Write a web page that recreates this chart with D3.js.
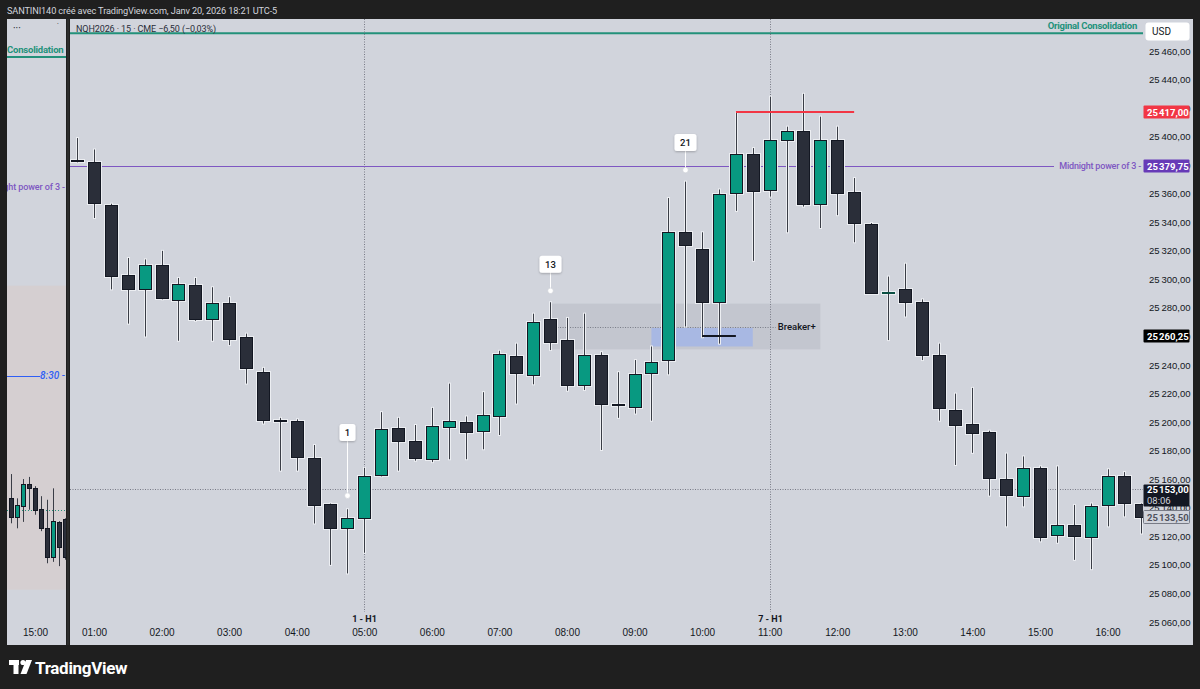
<!DOCTYPE html>
<html lang="fr">
<head>
<meta charset="UTF-8">
<title>NQH2026 - 15 - CME</title>
<script src="https://cdnjs.cloudflare.com/ajax/libs/d3/7.8.5/d3.min.js"></script>
<style>
  body { margin: 0; background: #1f1f1f; }
  svg { display: block; font-family: Roboto, "Noto Sans", sans-serif; }
</style>
</head>
<body>
<script>
// 15 min candles, NQH2026
var candleTimes = ["00:45","01:00","01:15","01:30","01:45","02:00","02:15","02:30","02:45","03:00","03:15","03:30","03:45","04:00","04:15","04:30","04:45","05:00","05:15","05:30","05:45","06:00","06:15","06:30","06:45","07:00","07:15","07:30","07:45","08:00","08:15","08:30","08:45","09:00","09:15","09:30","09:45","10:00","10:15","10:30","10:45","11:00","11:15","11:30","11:45","12:00","12:15","12:30","12:45","13:00","13:15","13:30","13:45","14:00","14:15","14:30","14:45","15:00","15:15","15:30","15:45","16:00","16:15","16:30"];
var opens  = [25383.5,25382,25352,25303,25293.5,25310,25286,25296,25272,25283.5,25260,25235,25201.5,25201,25175,25143,25126,25133,25163,25196,25187,25174,25197,25200,25194,25204,25246,25233,25272,25257.5,25226,25247,25213,25211,25234,25243,25333,25321,25284,25361,25388,25363,25398,25404,25353,25398,25361,25339,25291,25293,25284,25247,25208.5,25198.5,25193,25160,25148.5,25168,25121,25128,25120,25141.5,25162,25142.5];
var highs  = [25399,25391,25353,25315,25314,25320,25301,25301,25294.5,25287.5,25262,25238,25203,25202,25184,25143,25139,25168,25207,25203,25198,25210,25227,25204,25221,25250,25255,25276,25284,25273,25276,25249,25235,25243.5,25253,25357,25368.5,25333,25363,25417,25392,25428,25407,25430,25414,25407,25371,25339.5,25302,25311,25286,25255,25220,25224,25194,25178,25176,25169,25169,25142,25143,25167,25165,25143];
var lows   = [25382,25343,25293,25269,25260,25286,25257,25271,25257,25254,25227,25199,25166,25166,25129,25100,25094,25108.5,25162,25166,25173,25172,25174,25174,25181,25191,25213,25226.5,25250.5,25222,25222.5,25180.5,25203,25206,25201,25233.5,25267,25259.5,25255,25348,25313,25358,25333,25351,25336,25345,25326,25290,25257.5,25274,25243.5,25201,25170,25178.5,25148.5,25127,25141,25116.5,25115.5,25103.5,25097,25127,25134,25122];
var closes = [25383,25353,25302,25293,25310,25287,25297,25272,25283.5,25258,25238,25201.5,25201,25176,25142,25126,25133,25162.5,25195,25187,25175,25197,25201,25193,25205,25247.5,25234,25270,25256,25226,25247,25212.5,25212.5,25234,25242,25333,25324,25284,25360,25388,25362,25398,25404,25353,25398,25361,25339,25291,25291.5,25284,25247,25210,25198,25192,25161,25149,25168,25120,25128,25120,25141.5,25162,25143,25133.5];

// left mini pane
var leftTimes = ["14:00","14:15","14:30","14:45","15:00","15:15","15:30","15:45","16:00","16:15"];
var leftOpens  = [25161,25148,25155.5,25171,25168.5,25153.5,25140,25120,25144.5,25146.5];
var leftHighs  = [25178,25161,25174.5,25176,25169.5,25162.5,25160,25168,25145,25147];
var leftLows   = [25143.5,25140,25144.5,25153,25149.5,25138,25115.5,25116.5,25113.5,25118];
var leftCloses = [25148,25156.5,25171,25168.5,25153,25140,25120,25145,25127,25120];
var leftSession = [25310, 25097];
var leftLevel830 = 25246.7;

// axis ticks
var priceTicks = d3.range(25060, 25461, 20);
var hourTicks = ["01:00","02:00","03:00","04:00","05:00","06:00","07:00","08:00","09:00","10:00","11:00","12:00","13:00","14:00","15:00","16:00"];

// drawings
var consolidationLevel = 25472.5;
var midnightLevel = 25379.75;
var highLevel = 25417, highSpan = ["10:30","12:15"];
var lowLevel = 25260.25, lowSpan = ["10:00","10:30"];
var breakerBox = [25283, 25251], breakerSpan = ["07:45","11:45"];
var blueBox = [25266, 25253], blueSpan = ["09:15","10:45"];
var breakerLevel = 25267, breakerLineSpan = ["07:45","11:00"];
var lastPrice = 25153, lastClose = 25133.5, countdown = "08:06";
var sessionMarks = [{t:"05:00", label:"1 - H1"}, {t:"11:00", label:"7 - H1"}];
var callouts = [
  {label:"1",  t:"04:45", p:25148.5, box:25192.8},
  {label:"13", t:"07:45", p:25292,   box:25310.6},
  {label:"21", t:"09:45", p:25376.6, box:25395.9}
];

var W = 1200, H = 689;
var bull = "#089981", bear = "#2a2e39", edge = "#131722", paneBg = "#d1d4dc";
var parseT = d3.timeParse("%H:%M");
var loc = d3.formatLocale({decimal: ",", thousands: "\u202f", grouping: [3], currency: ["", ""]});
var fmt = loc.format(",.2f");
function crisp(v) { return Math.round(v) + 0.5; }

var svg = d3.select("body").append("svg").attr("width", W).attr("height", H);
svg.append("rect").attr("width", W).attr("height", H).attr("fill", "#1f1f1f");

// top caption
svg.append("text").attr("x", 7).attr("y", 13.5).attr("fill", "#d1d4dc")
  .attr("font-size", 9.2).attr("letter-spacing", -0.12)
  .text("SANTINI140 créé avec TradingView.com, Janv 20, 2026 18:21 UTC-5");

// panes
var L = {x0: 7, x1: 66, y0: 19, y1: 645};
var M = {x0: 70, x1: 1143, ax: 1193, y0: 19, y1: 612, yb: 645};
svg.append("rect").attr("x", L.x0).attr("y", L.y0).attr("width", L.x1 - L.x0).attr("height", L.y1 - L.y0).attr("fill", paneBg);
svg.append("rect").attr("x", M.x0).attr("y", M.y0).attr("width", M.ax - M.x0).attr("height", M.yb - M.y0).attr("fill", paneBg);

var defs = svg.append("defs");
defs.append("clipPath").attr("id", "clipM").append("rect")
  .attr("x", M.x0).attr("y", M.y0).attr("width", M.x1 - M.x0).attr("height", M.y1 - M.y0);
defs.append("clipPath").attr("id", "clipL").append("rect")
  .attr("x", L.x0).attr("y", 58).attr("width", L.x1 - L.x0).attr("height", M.y1 - 58);
var sh = defs.append("filter").attr("id", "shadow").attr("x", "-50%").attr("y", "-50%").attr("width", "200%").attr("height", "200%");
sh.append("feDropShadow").attr("dx", 0).attr("dy", 1).attr("stdDeviation", 1).attr("flood-color", "#000").attr("flood-opacity", 0.25);

// scales
var x = d3.scaleTime().domain([parseT("01:00"), parseT("16:00")]).range([94, 1107.5]);
var y = d3.scaleLinear().domain([25060, 25460]).range([622, 51]);
var xl = d3.scaleTime().domain([parseT("14:00"), parseT("16:15")]).range([11, 65]);
var yl = d3.scaleLinear().domain([25060, 25460]).range([642.5, 71.5]);

function rows(t, o, h, l, c) {
  return t.map(function(d, i) { return {t: parseT(d), o: o[i], h: h[i], l: l[i], c: c[i]}; });
}

function drawCandles(g, data, xs, ys, bw, halo) {
  var c = g.selectAll(null).data(data).enter().append("g");
  function cx(d) { return Math.round(xs(d.t)) + 0.5; }
  function top(d) { return Math.round(ys(Math.max(d.o, d.c))) + 0.5; }
  function hgt(d) { return Math.max(1, Math.round(ys(Math.min(d.o, d.c)) - ys(Math.max(d.o, d.c)))); }
  if (halo) {
    c.append("line").attr("x1", cx).attr("x2", cx)
      .attr("y1", function(d) { return ys(d.h) - 1; }).attr("y2", function(d) { return ys(d.l) + 1; })
      .attr("stroke", "#eceef2").attr("stroke-width", 3);
    c.append("rect").attr("x", function(d) { return cx(d) - bw / 2; }).attr("y", top)
      .attr("width", bw).attr("height", hgt)
      .attr("fill", "none").attr("stroke", "#eceef2").attr("stroke-width", 3);
  }
  c.append("line").attr("x1", cx).attr("x2", cx)
    .attr("y1", function(d) { return ys(d.h); }).attr("y2", function(d) { return ys(d.l); })
    .attr("stroke", "#3a3d46").attr("stroke-width", 1);
  c.append("rect").attr("x", function(d) { return cx(d) - bw / 2; }).attr("y", top)
    .attr("width", bw).attr("height", hgt)
    .attr("fill", function(d) { return d.c > d.o ? bull : bear; })
    .attr("stroke", function(d) { return d.c > d.o && hgt(d) < 3 ? "#0b4f43" : edge; })
    .attr("stroke-width", 1);
}

// ---------- left pane ----------
var gl = svg.append("g").attr("clip-path", "url(#clipL)");
gl.append("rect").attr("x", L.x0).attr("width", L.x1 - L.x0)
  .attr("y", yl(leftSession[0])).attr("height", yl(leftSession[1]) - yl(leftSession[0]))
  .attr("fill", "#d5cfd1");
gl.append("text").attr("x", L.x1 - 1).attr("y", yl(midnightLevel) + 3.5).attr("text-anchor", "end")
  .attr("fill", "#7e57c2").attr("font-size", 9).attr("font-weight", 500).attr("letter-spacing", -0.1).text("Midnight power of 3 -");
gl.append("line").attr("x1", L.x0).attr("x2", 40).attr("y1", crisp(yl(leftLevel830))).attr("y2", crisp(yl(leftLevel830)))
  .attr("stroke", "#2f5ff5").attr("stroke-width", 1);
gl.append("text").attr("x", L.x1 - 1).attr("y", yl(leftLevel830) + 3.5).attr("text-anchor", "end")
  .attr("fill", "#2f5ff5").attr("font-size", 10).attr("font-style", "italic").attr("font-weight", 500).text("8:30 -");
gl.append("line").attr("x1", L.x0).attr("x2", L.x1).attr("y1", crisp(yl(lastPrice))).attr("y2", crisp(yl(lastPrice)))
  .attr("stroke", "#22917a").attr("stroke-dasharray", "1,2");
drawCandles(gl, rows(leftTimes, leftOpens, leftHighs, leftLows, leftCloses), xl, yl, 4, false);
// left header: consolidation line (label cut by the pane edge)
svg.append("line").attr("x1", L.x0).attr("x2", L.x1).attr("y1", 57).attr("y2", 57).attr("stroke", "#22917a").attr("stroke-width", 2);
svg.append("text").attr("x", L.x0).attr("y", 52.5).attr("fill", "#22917a").attr("font-size", 9.5).attr("font-weight", "bold").attr("letter-spacing", -0.2).text("Consolidation");
svg.append("text").attr("x", 13).attr("y", 32).attr("fill", "#131722").attr("font-size", 10).text("···");
svg.append("text").attr("x", 57).attr("y", 28).attr("fill", "#131722").attr("font-size", 7).text("˙");
svg.append("g").attr("transform", "translate(0," + M.y1 + ")")
  .call(d3.axisBottom(xl).tickValues([parseT("15:00")]).tickFormat(d3.timeFormat("%H:%M")).tickSize(0).tickPadding(17))
  .call(function(g) { g.select(".domain").remove(); g.selectAll("text").attr("fill", "#131722").attr("font-size", 10).attr("font-family", null); });

// ---------- main pane ----------
var gm = svg.append("g").attr("clip-path", "url(#clipM)");

// header symbol line
gm.append("line").attr("x1", M.x0).attr("x2", M.x1).attr("y1", y(consolidationLevel)).attr("y2", y(consolidationLevel))
  .attr("stroke", "#22917a").attr("stroke-width", 2);
gm.append("text").attr("x", M.x1 - 6).attr("y", y(consolidationLevel) - 4).attr("text-anchor", "end")
  .attr("fill", "#22917a").attr("font-size", 9.5).attr("font-weight", "bold").attr("letter-spacing", -0.25).text("Original Consolidation");
gm.append("text").attr("x", 76).attr("y", 32).attr("fill", "#2a2e39").attr("font-size", 9).attr("letter-spacing", -0.1)
  .text("NQH2026 · 15 · CME  −6,50 (−0,03%)");

// zones
gm.append("rect").attr("x", x(parseT(breakerSpan[0]))).attr("width", x(parseT(breakerSpan[1])) - x(parseT(breakerSpan[0])))
  .attr("y", y(breakerBox[0])).attr("height", y(breakerBox[1]) - y(breakerBox[0]))
  .attr("fill", "#b2b5be").attr("opacity", 0.45);
gm.append("rect").attr("x", x(parseT(blueSpan[0]))).attr("width", x(parseT(blueSpan[1])) - x(parseT(blueSpan[0])))
  .attr("y", y(blueBox[0])).attr("height", y(blueBox[1]) - y(blueBox[0]))
  .attr("fill", "#9fb3ea").attr("opacity", 0.75);
gm.append("line").attr("x1", x(parseT(breakerLineSpan[0])) + 5).attr("x2", x(parseT(breakerLineSpan[1])) + 6)
  .attr("y1", crisp(y(breakerLevel))).attr("y2", crisp(y(breakerLevel)))
  .attr("stroke", "#787b86").attr("stroke-dasharray", "1,1.5");
gm.append("text").attr("x", x(parseT(breakerLineSpan[1])) + 8).attr("y", y(breakerLevel) + 3.5)
  .attr("fill", "#131722").attr("font-size", 9.5).attr("font-weight", 500).text("Breaker+");

// session dotted lines
sessionMarks.forEach(function(s) {
  var sx = crisp(x(parseT(s.t)));
  gm.append("line").attr("x1", sx).attr("x2", sx).attr("y1", M.y0).attr("y2", M.y1)
    .attr("stroke", "#787b86").attr("stroke-dasharray", "1,1.5");
  svg.append("text").attr("x", sx).attr("y", 622).attr("text-anchor", "middle")
    .attr("fill", "#131722").attr("font-size", 9).attr("font-weight", "bold").text(s.label);
});

// last price dotted
gm.append("line").attr("x1", M.x0).attr("x2", M.x1).attr("y1", crisp(y(lastPrice))).attr("y2", crisp(y(lastPrice)))
  .attr("stroke", "#787b86").attr("stroke-dasharray", "1,1.5");

// midnight line
gm.append("line").attr("x1", M.x0).attr("x2", 1054).attr("y1", crisp(y(midnightLevel))).attr("y2", crisp(y(midnightLevel)))
  .attr("stroke", "#7e57c2").attr("stroke-width", 1);
gm.append("text").attr("x", M.x1 - 2).attr("y", y(midnightLevel) + 3.5).attr("text-anchor", "end")
  .attr("fill", "#7e57c2").attr("font-size", 9).attr("font-weight", 500).attr("letter-spacing", -0.2).text("Midnight power of 3 -");

// candles
drawCandles(gm, rows(candleTimes, opens, highs, lows, closes), x, y, 12, true);

// high / low lines
gm.append("line").attr("x1", x(parseT(highSpan[0]))).attr("x2", x(parseT(highSpan[1])))
  .attr("y1", Math.round(y(highLevel))).attr("y2", Math.round(y(highLevel))).attr("stroke", "#f23645").attr("stroke-width", 2);
gm.append("line").attr("x1", x(parseT(lowSpan[0]))).attr("x2", x(parseT(lowSpan[1])))
  .attr("y1", Math.round(y(lowLevel))).attr("y2", Math.round(y(lowLevel))).attr("stroke", "#131722").attr("stroke-width", 2);

// callouts
callouts.forEach(function(c) {
  var cx = crisp(x(parseT(c.t)));
  var bw = c.label.length > 1 ? 22 : 16;
  gm.append("line").attr("x1", cx).attr("x2", cx).attr("y1", y(c.box)).attr("y2", y(c.p))
    .attr("stroke", "#ffffff").attr("stroke-width", 1);
  gm.append("circle").attr("cx", cx).attr("cy", y(c.p)).attr("r", 2.8)
    .attr("fill", "#ffffff").attr("stroke", "#c9ccd4").attr("stroke-width", 0.6);
  gm.append("rect").attr("x", cx - bw / 2).attr("y", y(c.box) - 8.5).attr("width", bw).attr("height", 17)
    .attr("rx", 2.5).attr("fill", "#ffffff").attr("filter", "url(#shadow)");
  gm.append("text").attr("x", cx).attr("y", y(c.box) + 3.5).attr("text-anchor", "middle")
    .attr("fill", "#131722").attr("font-size", 9.5).attr("font-weight", 500).text(c.label);
});

// ---------- axes ----------
svg.append("g").attr("transform", "translate(" + M.x1 + ",0)")
  .call(d3.axisRight(y).tickValues(priceTicks).tickFormat(fmt).tickSize(0).tickPadding(6))
  .call(function(g) {
    g.select(".domain").remove();
    g.selectAll("text").attr("fill", "#131722").attr("font-size", 9.5).attr("font-family", null).attr("letter-spacing", -0.3);
  });

svg.append("g").attr("transform", "translate(0," + M.y1 + ")")
  .call(d3.axisBottom(x).tickValues(hourTicks.map(parseT)).tickFormat(d3.timeFormat("%H:%M")).tickSize(0).tickPadding(17))
  .call(function(g) {
    g.select(".domain").remove();
    g.selectAll("text").attr("fill", "#131722").attr("font-size", 10).attr("font-family", null);
  });

// axis price labels
function priceTag(p, fill, color, txt, stroke) {
  var yy = Math.round(y(p));
  svg.append("rect").attr("x", M.x1 + 0.5).attr("y", yy - 6.5).attr("width", 46).attr("height", 13)
    .attr("fill", fill).attr("stroke", stroke || "none").attr("rx", 1);
  svg.append("text").attr("x", M.x1 + 4).attr("y", yy + 3.5).attr("fill", color)
    .attr("font-size", 9.5).attr("font-weight", "bold").attr("letter-spacing", -0.3).text(txt || fmt(p));
}
priceTag(highLevel, "#f23645", "#ffffff");
priceTag(midnightLevel, "#673ab7", "#ffffff");
priceTag(lowLevel, "#000000", "#ffffff");
priceTag(lastClose, paneBg, "#50535e", null, "#787b86");
var ly = Math.round(y(lastPrice));
svg.append("rect").attr("x", M.x1 + 0.5).attr("y", ly - 4.5).attr("width", 46).attr("height", 22).attr("fill", "#131722").attr("rx", 1);
svg.append("text").attr("x", M.x1 + 4).attr("y", ly + 4).attr("fill", "#ffffff").attr("font-size", 9.5)
  .attr("font-weight", "bold").attr("letter-spacing", -0.3).text(fmt(lastPrice));
svg.append("text").attr("x", M.x1 + 4).attr("y", ly + 14.5).attr("fill", "#d1d4dc").attr("font-size", 9.5).text(countdown);

// USD box
svg.append("rect").attr("x", 1145.5).attr("y", 22.5).attr("width", 44).attr("height", 18).attr("rx", 3).attr("fill", "#ffffff");
svg.append("text").attr("x", 1152).attr("y", 35).attr("fill", "#131722").attr("font-size", 10).text("USD");

// pane separator
svg.append("rect").attr("x", 66).attr("y", L.y0).attr("width", 4).attr("height", L.y1 - L.y0).attr("fill", "#1f1f1f");
svg.append("line").attr("x1", 68).attr("x2", 68).attr("y1", L.y0).attr("y2", L.y1).attr("stroke", "#3a3a3a");

// TradingView logo
var logo = svg.append("g").attr("fill", "#ffffff");
logo.append("rect").attr("x", 9).attr("y", 660).attr("width", 10).attr("height", 5);
logo.append("rect").attr("x", 13.5).attr("y", 660).attr("width", 5).attr("height", 14);
logo.append("circle").attr("cx", 23).attr("cy", 662.5).attr("r", 2.6);
logo.append("path").attr("d", "M26,660 L32,660 L26.5,674 L20.5,674 Z");
svg.append("text").attr("x", 35).attr("y", 673.5).attr("fill", "#ffffff").attr("font-size", 17)
  .attr("font-weight", "bold").attr("letter-spacing", -0.3).text("TradingView");
</script>
</body>
</html>
